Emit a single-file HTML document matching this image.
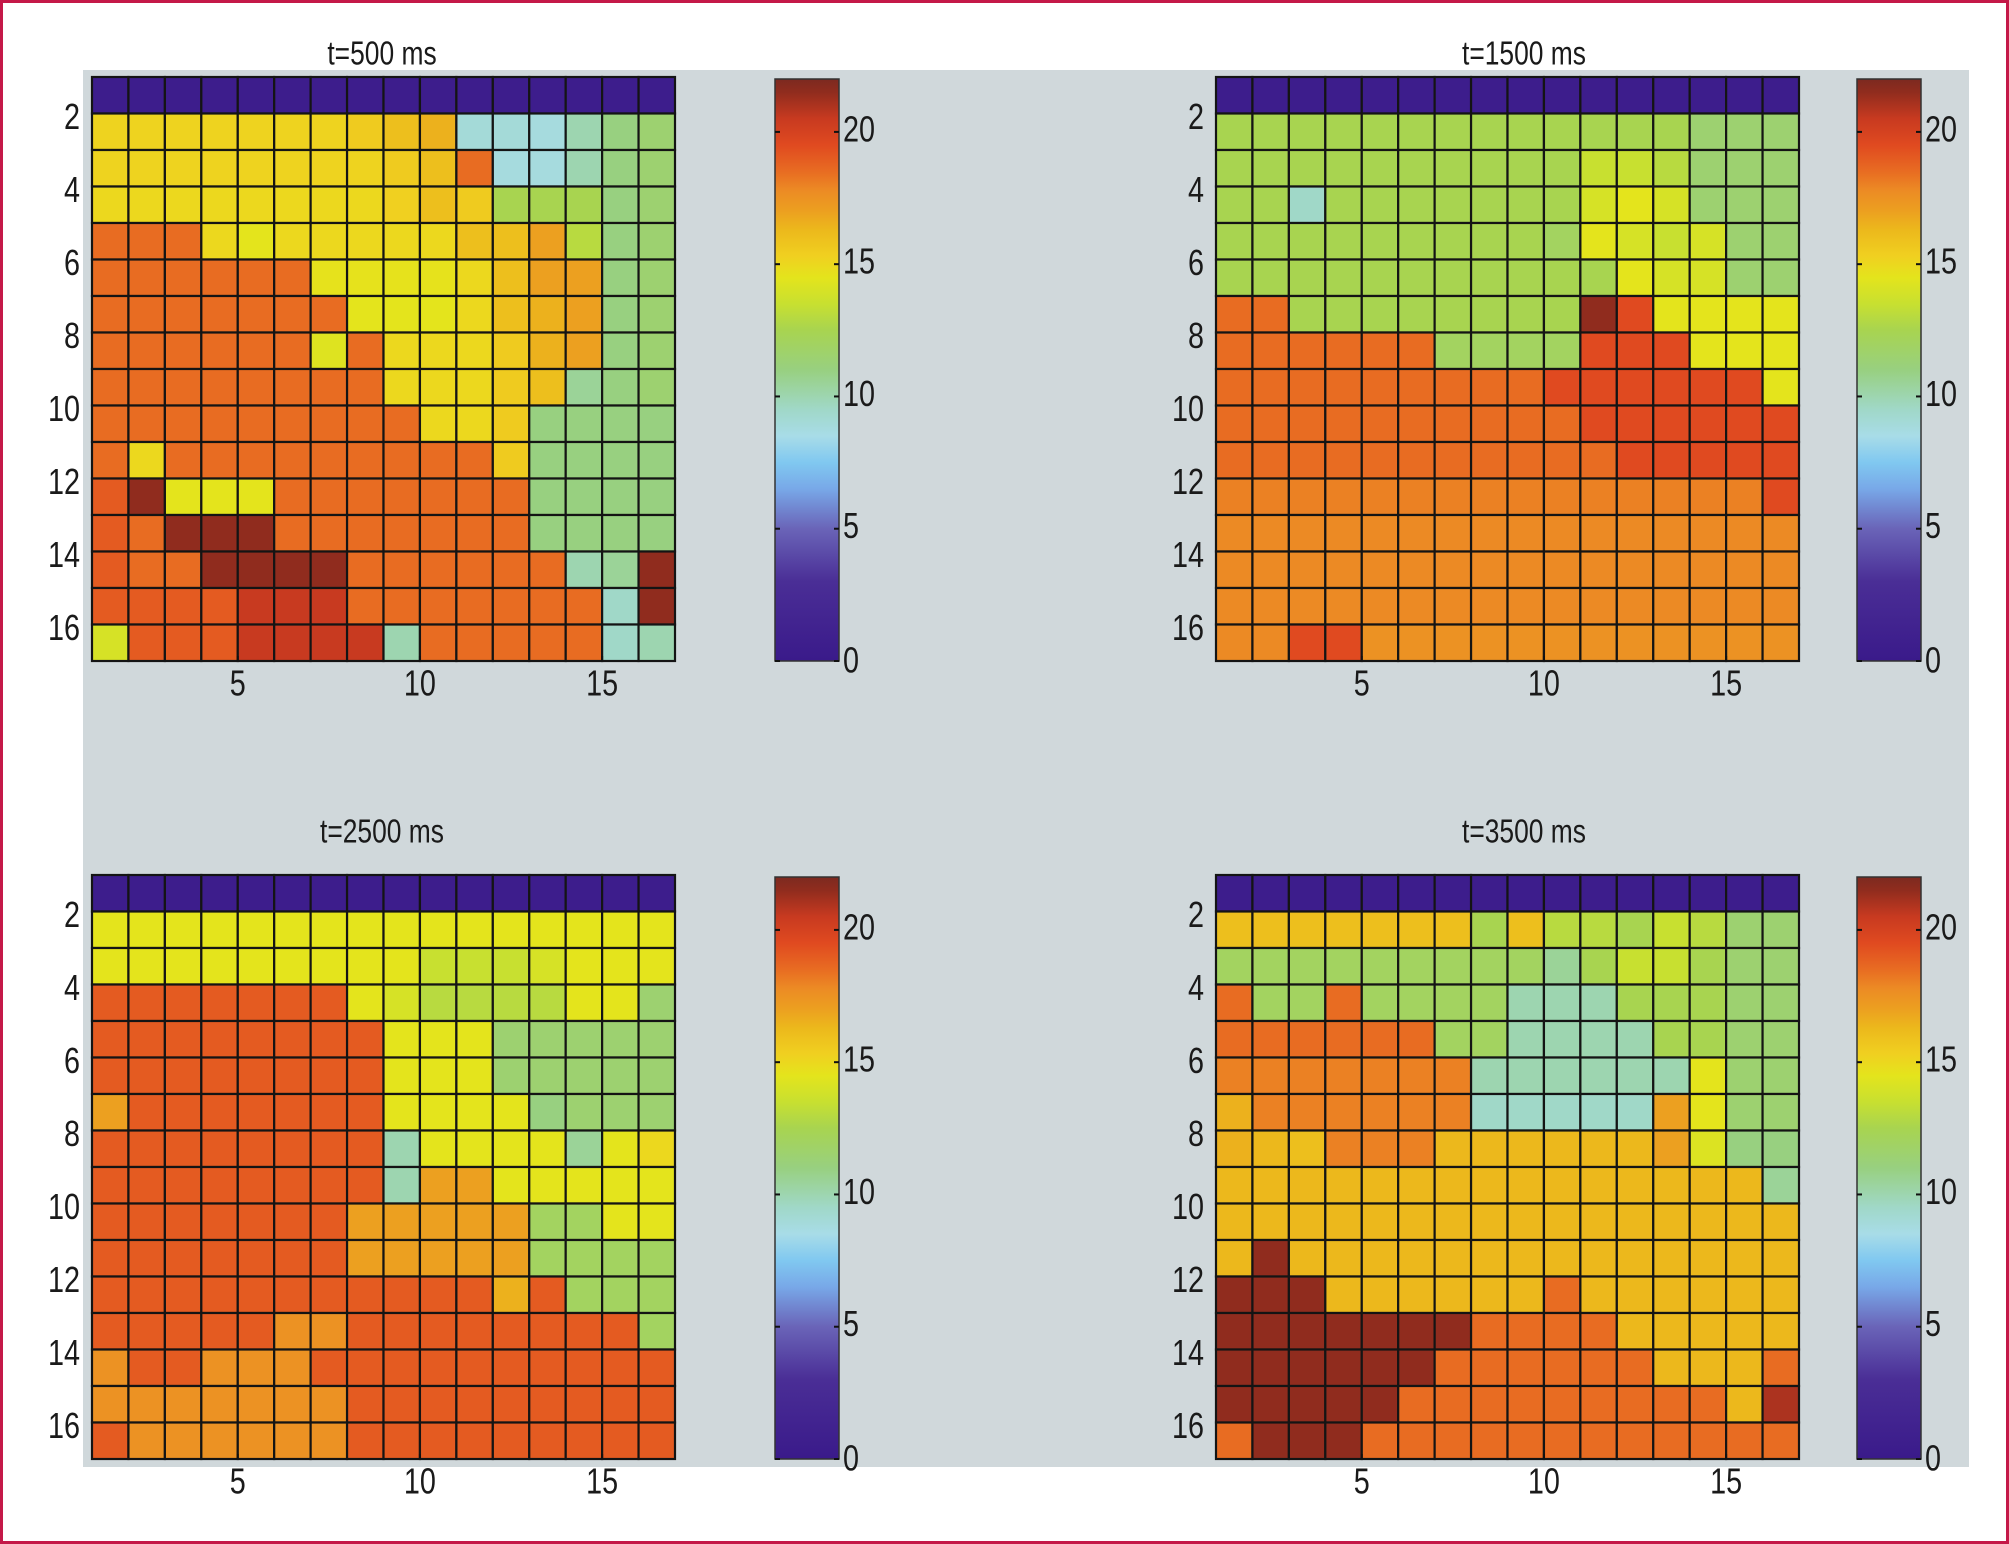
<!DOCTYPE html>
<html><head><meta charset="utf-8">
<style>
html,body{margin:0;padding:0;background:#fff;}
svg{display:block;}
text{font-family:"Liberation Sans",sans-serif;fill:#1a1a1a;}
</style></head>
<body>
<svg id="fig" width="2009" height="1544" viewBox="0 0 2009 1544">
<rect x="0" y="0" width="2009" height="1544" fill="#fff"/>
<rect x="83" y="70" width="1886" height="1397" fill="#d0d8db"/>
<rect x="1.5" y="1.5" width="2006" height="1541" fill="none" stroke="#c41848" stroke-width="3"/>
</svg>
<script>
const titles = ["t=500 ms","t=1500 ms","t=2500 ms","t=3500 ms"];
const xTicks = [5,10,15];
const yTicks = [2,4,6,8,10,12,14,16];
const cbTicks = [0,5,10,15,20];
const cbMax = 22;
const B=0.5;
const panel500 = [
[B,B,B,B,B,B,B,B,B,B,B,B,B,B,B,B],
[15.2,15.2,15.2,15.2,15.2,15.2,15.2,15.5,16,16.5,9,9,8.8,10,11,11.5],
[15.2,15.2,15.2,15.2,15.2,15.2,15.2,15.2,15.5,16,18.5,8.8,8.8,10,11,11.5],
[15,15,15,15,15,15,15,15,15.3,16,15.5,12.5,12.5,12.5,11,11.5],
[18.5,18.5,18.5,15,14.5,15,15,15,15,15,16,16,17,13,11,11.5],
[18.5,18.5,18.5,18.5,18.5,18.5,14.6,14.6,14.6,14.6,15,16,17,17,11,11.5],
[18.5,18.5,18.5,18.5,18.5,18.5,18.5,14.5,14.5,14.5,15,16,16.5,17,11,11.5],
[18.5,18.5,18.5,18.5,18.5,18.5,14.3,18.5,15,15,15,15.5,16.5,17,11,11.5],
[18.5,18.5,18.5,18.5,18.5,18.5,18.5,18.5,15,15,15,15.5,16,10.5,11,11.5],
[18.5,18.5,18.5,18.5,18.5,18.5,18.5,18.5,18.5,15,15,15.5,11,11,11,11],
[18.5,15,18.5,18.5,18.5,18.5,18.5,18.5,18.5,18.5,18.5,15.5,11,11,11,11],
[19,21.5,14.5,14.5,14.5,18.5,18.5,18.5,18.5,18.5,18.5,18.5,11,11,11,11],
[19,18.5,21.5,21.5,21.5,18.5,18.5,18.5,18.5,18.5,18.5,18.5,11,11,11,11],
[19,18.5,18.5,21.5,21.5,21.5,21.5,18.5,18.5,18.5,18.5,18.5,18.5,10,10.5,21.5],
[19,19,19,19,20.5,20.5,20.5,18.5,18.5,18.5,18.5,18.5,18.5,18.5,9.5,21.5],
[14,19,19,19,20.5,20.5,20.5,20.5,10,18.5,18.5,18.5,18.5,18.5,9.5,10]
];
const panel1500 = [
[B,B,B,B,B,B,B,B,B,B,B,B,B,B,B,B],
[12.5,12.5,12.5,12.5,12.5,12.5,12.5,12.5,12.5,12.5,12.5,12.5,12.5,11.5,11.5,11.5],
[12.5,12.5,12.5,12.5,12.5,12.5,12.5,12.5,12.5,12.5,13.5,13.5,13,11.5,11.5,11.5],
[12.5,12.5,9.5,12.5,12.5,12.5,12.5,12.5,12.5,12.5,14,14.5,14,11.5,11.5,11.5],
[12.5,12.5,12.5,12.5,12.5,12.5,12.5,12.5,12.5,12,14.5,14,13.5,14,11.5,11.5],
[12.5,12.5,12.5,12.5,12.5,12.5,12.5,12.5,12.5,12.5,12.5,14.5,14,14,11.5,11.5],
[18.5,18.5,12.5,12.5,12.5,12.5,12.5,12.5,12.5,12.5,21.5,19.5,14.5,14.5,14.5,14.5],
[18.5,18.5,18.5,18.5,18.5,18.5,12,12,12,12,19.5,19.5,19.5,14.5,14.5,14.5],
[18.5,18.5,18.5,18.5,18.5,18.5,18.5,18.5,18.5,19.5,19.5,19.5,19.5,19.5,19.5,14.5],
[18.5,18.5,18.5,18.5,18.5,18.5,18.5,18.5,18.5,18.5,19.5,19.5,19.5,19.5,19.5,19.5],
[18.5,18.5,18.5,18.5,18.5,18.5,18.5,18.5,18.5,18.5,18.5,19.5,19.5,19.5,19.5,19.5],
[18,18,18,18,18,18,18,18,18,18,18,18,18,18,18,19.5],
[17.8,17.8,17.8,17.8,17.8,17.8,17.8,17.8,17.8,17.8,17.8,17.8,17.8,17.8,17.8,17.8],
[17.8,17.8,17.8,17.8,17.8,17.8,17.8,17.8,17.8,17.8,17.8,17.8,17.8,17.8,17.8,17.8],
[17.8,17.8,17.8,17.8,17.8,17.8,17.8,17.8,17.8,17.8,17.8,17.8,17.8,17.8,17.8,17.8],
[17.8,17.8,19.5,19.5,17.5,17.5,17.5,17.5,17.5,17.5,17.5,17.5,17.5,17.5,17.5,17.5]
];
const panel2500 = [
[B,B,B,B,B,B,B,B,B,B,B,B,B,B,B,B],
[14.5,14.5,14.5,14.5,14.5,14.5,14.5,14.5,14.5,14.5,14.5,14.5,14.5,14.5,14.5,14.5],
[14.5,14.5,14.5,14.5,14.5,14.5,14.5,14.5,14.5,13.5,13.5,13.5,14,14.5,14.5,14.5],
[19,19,19,19,19,19,19,14.5,14,13,13,13,13,14.5,14.5,11.5],
[19,19,19,19,19,19,19,19,14.5,14.5,14.5,11.5,11.5,11.5,11.5,11.5],
[19,19,19,19,19,19,19,19,14.5,14.5,14.5,11.5,11.5,11.5,11.5,11.5],
[17,19,19,19,19,19,19,19,14.5,14.5,14.5,14.5,11,11.5,11.5,11.5],
[19,19,19,19,19,19,19,19,10,14.5,14.5,14.5,14.5,10.5,14.5,15],
[19,19,19,19,19,19,19,19,10,17,17,14.5,14.5,14.5,14.5,14.5],
[19,19,19,19,19,19,19,17,17,17,17,17,12,12,14.5,14.5],
[19,19,19,19,19,19,19,17,17,17,17,17,12,12,12,12],
[19,19,19,19,19,19,19,19,19,19,19,16.5,19,12,12,12],
[19,19,19,19,19,17.5,17.5,19,19,19,19,19,19,19,19,12],
[17.5,19,19,17.5,17.5,17.5,19,19,19,19,19,19,19,19,19,19],
[17.5,17.5,17.5,17.5,17.5,17.5,17.5,19,19,19,19,19,19,19,19,19],
[19,17.5,17.5,17.5,17.5,17.5,17.5,19,19,19,19,19,19,19,19,19]
];
const panel3500 = [
[B,B,B,B,B,B,B,B,B,B,B,B,B,B,B,B],
[16,16,16,16,16,16,16,12.5,16,13,13,12.5,13.5,13,11.5,11.5],
[12,12,12,12,12,12,12,12,12,10.5,12.5,13.5,13.5,12.5,11.5,11.5],
[18.5,12,12,18.5,12,12,12,12,10,10,10,12.5,12.5,12.5,11.5,11.5],
[18.5,18.5,18.5,18.5,18.5,18.5,12,12,10,10,10,10,12.5,12.5,11.5,11.5],
[18,18,18,18,18,18,18,10,10,10,10,10,10,14.5,11.5,11.5],
[16.5,18,18,18,18,18,18,9.5,9.5,9.5,9.5,9.5,17,14.5,11.5,11.5],
[16.5,16.3,16,18,18,18,16.3,16.3,16.3,16.3,16.3,16.3,17,14.2,11,11],
[16.3,16.3,16.3,16.3,16.3,16.3,16.3,16.3,16.3,16.3,16.3,16.3,16.3,16.3,16.3,10.5],
[16.3,16.3,16.3,16.3,16.3,16.3,16.3,16.3,16.3,16.3,16.3,16.3,16.3,16.3,16.3,16.3],
[16.3,21.5,16.3,16.3,16.3,16.3,16.3,16.3,16.3,16.3,16.3,16.3,16.3,16.3,16.3,16.3],
[21.5,21.5,21.5,16.3,16.3,16.3,16.3,16.3,16.3,18.5,16.3,16.3,16.3,16.3,16.3,16.3],
[21.5,21.5,21.5,21.5,21.5,21.5,21.5,18.5,18.5,18.5,18.5,16.3,16.3,16.3,16.3,16.3],
[21.5,21.5,21.5,21.5,21.5,21.5,18.5,18.5,18.5,18.5,18.5,18.5,16.3,16.3,16.3,18.5],
[21.5,21.5,21.5,21.5,21.5,18.5,18.5,18.5,18.5,18.5,18.5,18.5,18.5,18.5,16.3,21],
[18.5,21.5,21.5,21.5,18.5,18.5,18.5,18.5,18.5,18.5,18.5,18.5,18.5,18.5,18.5,18.5]
];
const panelData = [panel500, panel1500, panel2500, panel3500];

const stops = [
[0,"#3a1a8a"],[3,"#4a2e96"],[5,"#6a64b8"],[6.5,"#78a8e8"],[7.5,"#80c8f0"],[8.5,"#a8dce8"],
[9.5,"#a0d8c8"],[11,"#98d080"],[12.5,"#a8d450"],[13.5,"#c8e030"],[14.5,"#e4e41c"],[15.3,"#f0d020"],
[16.3,"#ecb81c"],[17,"#eca020"],[17.8,"#ec8a24"],[18.5,"#e86c22"],[19.5,"#e04a20"],[20.5,"#c83a20"],
[21.5,"#902c1e"],[22,"#7c2a20"]];
function hx(c){return [1,3,5].map(i=>parseInt(c.substr(i,2),16));}
function cmap(v){
  if(v<=stops[0][0]) return stops[0][1];
  for(let i=1;i<stops.length;i++){
    if(v<=stops[i][0]){
      const a=hx(stops[i-1][1]),b=hx(stops[i][1]);
      const t=(v-stops[i-1][0])/(stops[i][0]-stops[i-1][0]);
      return "rgb("+a.map((x,k)=>Math.round(x+(b[k]-x)*t)).join(",")+")";
    }
  }
  return stops[stops.length-1][1];
}
const NS="http://www.w3.org/2000/svg";
const svg=document.getElementById("fig");
function el(tag,attrs,parent){const e=document.createElementNS(NS,tag);for(const k in attrs)e.setAttribute(k,attrs[k]);(parent||svg).appendChild(e);return e;}
function ntext(parent,x,y,size,anchor,str){
  const t=el("text",{x:0,y:0,"font-size":size,"text-anchor":anchor,"dominant-baseline":"middle",
    transform:"translate("+x+","+y+") scale(0.8,1)"},parent);
  t.textContent=str;
  return t;
}

const layouts=[
 {gx:92,gy:77,cbx:775,cby:79,tx:382,ty:56},
 {gx:1216,gy:77,cbx:1857,cby:79,tx:1524,ty:56},
 {gx:92,gy:875,cbx:775,cby:877,tx:382,ty:834},
 {gx:1216,gy:875,cbx:1857,cby:877,tx:1524,ty:834}
];
const GW=583, GH=584, CBW=64, CBH=582;

const defs=el("defs",{});
const grad=el("linearGradient",{id:"cbgrad",x1:"0",y1:"1",x2:"0",y2:"0"},defs);
stops.forEach(s=>{el("stop",{offset:(s[0]/cbMax),"stop-color":s[1]},grad);});

panelData.forEach((data,p)=>{
  const L=layouts[p];
  const g=el("g",{});
  
  
  const nr=data.length, nc=data[0].length;
  const xS=v=>L.gx+(v-1)*GW/nc;
  const yS=v=>L.gy+(v-1)*GH/nr;
  const t=ntext(g,L.tx,L.ty,33,"middle",titles[p]);
  
  
  for(let r=0;r<nr;r++){for(let c=0;c<nc;c++){
    const x0=xS(c+1),x1=xS(c+2),y0=yS(r+1),y1=yS(r+2);
    const rc=el("rect",{x:x0,y:y0,width:x1-x0,height:y1-y0,fill:cmap(data[r][c]),stroke:"#141414","stroke-width":2.2},g);
    
    
  }}
  xTicks.forEach(v=>{
    const x=xS(v);
    el("line",{x1:x,x2:x,y1:L.gy+GH,y2:L.gy+GH-5,stroke:"#111","stroke-width":2},g);
    const tx=ntext(g,x,L.gy+GH+25,36,"middle",v);
    
    
  });
  yTicks.forEach(v=>{
    const y=yS(v);
    const ty=ntext(g,L.gx-12,y+6,36,"end",v);
    
    
  });
  const cb=el("rect",{x:L.cbx,y:L.cby,width:CBW,height:CBH,fill:"url(#cbgrad)",stroke:"#333","stroke-width":1.5},g);
  
  
  const cS=v=>L.cby+CBH-v/cbMax*CBH;
  cbTicks.forEach(v=>{
    const y=cS(v);
    el("line",{x1:L.cbx,x2:L.cbx+5,y1:y,y2:y,stroke:"#111","stroke-width":2},g);
    el("line",{x1:L.cbx+CBW-5,x2:L.cbx+CBW,y1:y,y2:y,stroke:"#111","stroke-width":2},g);
    const tl=ntext(g,L.cbx+CBW+4,y+(v===0?2:0),36,"start",v);
    
    
  });
});
</script>
</body></html>
